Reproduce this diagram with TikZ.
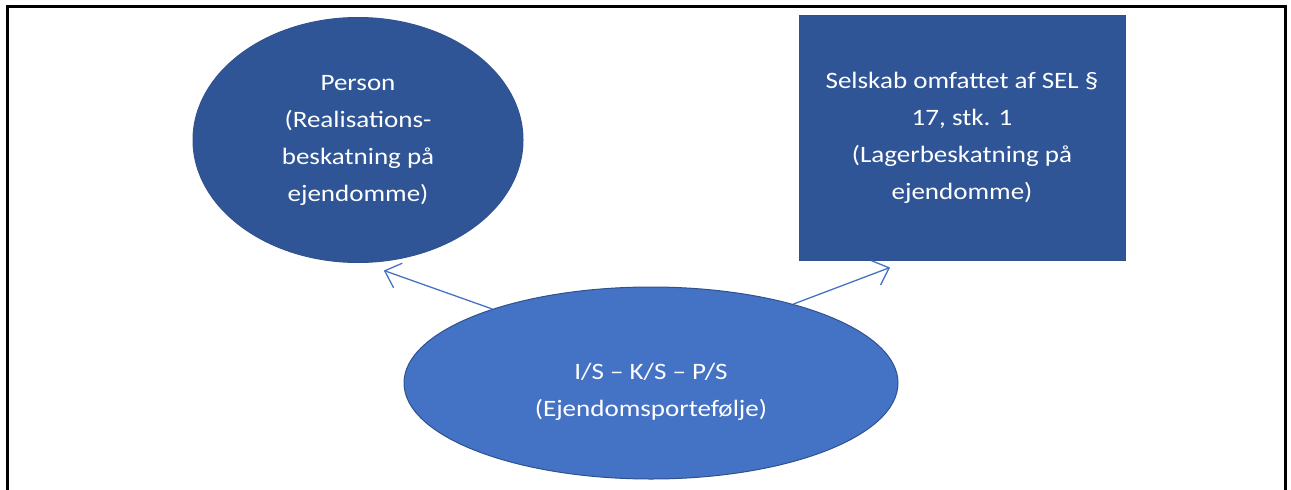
\documentclass[tikz,border=0pt]{standalone}
\usepackage{fontspec}
\setmainfont{Carlito}[FakeStretch=1.15]
\usetikzlibrary{shapes.geometric,arrows.meta}
\definecolor{darkblue}{HTML}{2F5597}
\definecolor{midblue}{HTML}{4472C4}
\definecolor{edgeblue}{HTML}{2F528F}
\tikzstyle{darkoval} = [ellipse, fill=darkblue, draw=edgeblue, line width=1pt,
    minimum width=330, minimum height=245, inner sep=0, text=white,
    align=center, font=\fontsize{23.5}{37}\selectfont]
\tikzstyle{darkbox} = [rectangle, fill=darkblue, draw=edgeblue, line width=1pt,
    minimum width=326, minimum height=245, inner sep=0, text=white,
    align=center, font=\fontsize{23.5}{37}\selectfont]
\tikzstyle{lightoval} = [ellipse, fill=midblue, draw=edgeblue, line width=1pt,
    minimum width=494, minimum height=192, inner sep=0, text=white,
    align=center, font=\fontsize{23.5}{37}\selectfont]
\tikzstyle{thinarrow} = [draw=midblue, line width=1.3pt,
    -{Straight Barb[length=14pt,width=26pt]}]

\begin{document}
\begin{tikzpicture}[x=1pt, y=-1pt]
\useasboundingbox (0,0) rectangle (1291,490);
% frame
\draw[line width=3pt] (7.5,490) -- (7.5,6.5) -- (1285.5,6.5) -- (1285.5,490);
\node [darkoval] (person) at (358,140) {Person\\(Realisations-\\beskatning på\\ejendomme)};
\node [darkbox] (selskab) at (962,137.5) {Selskab omfattet af SEL §\\17, stk. 1\\(Lagerbeskatning på\\ejendomme)};
\node [lightoval] (portefolje) at (651,383) {\rule{0pt}{34pt}I/S – K/S – P/S\\(Ejendomsportefølje)};
\draw [thinarrow] (portefolje.155) -- ([yshift=-9pt]person.282);
\draw [thinarrow] (portefolje.29) -- ([xshift=-72pt,yshift=-7pt]selskab.south);
\end{tikzpicture}
\end{document}
